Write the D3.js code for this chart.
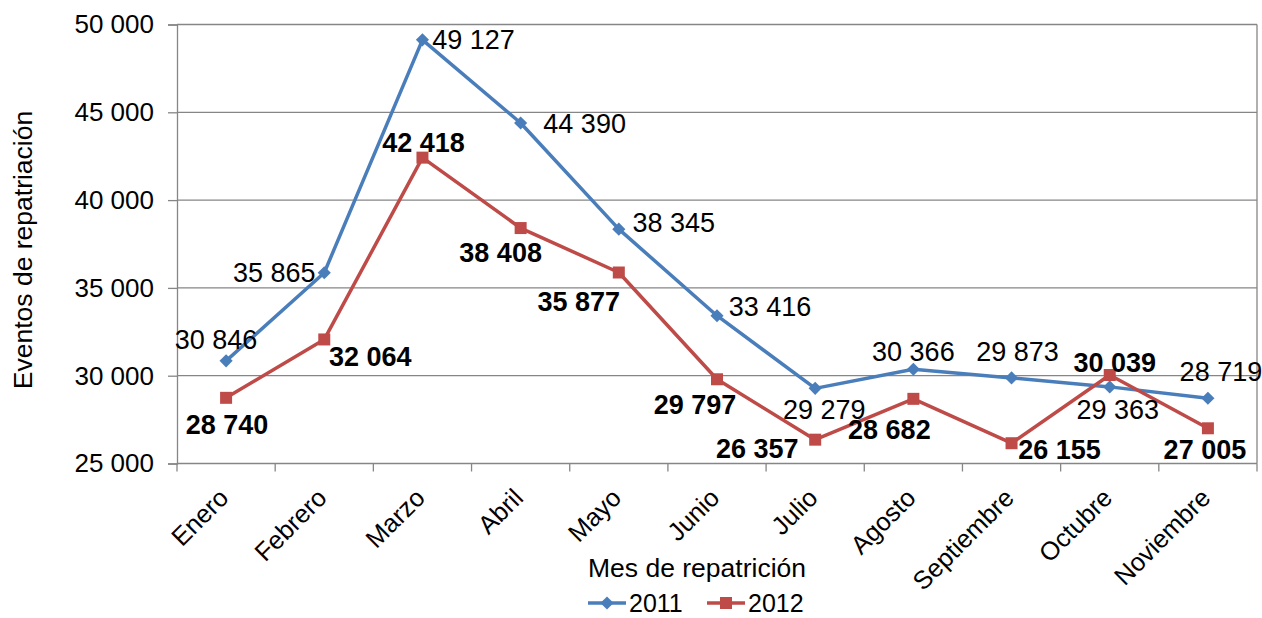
<!DOCTYPE html>
<html>
<head>
<meta charset="utf-8">
<script src="https://cdn.jsdelivr.net/npm/d3@7"></script>
<style>
  html, body { margin: 0; padding: 0; background: #fff; }
  svg { display: block; font-family: "Liberation Sans", Arial, sans-serif; }
</style>
</head>
<body>
<svg id="chart" width="1262" height="618"></svg>
<script>
// Monthly repatriation events, 2011 vs 2012
const months = ["Enero", "Febrero", "Marzo", "Abril", "Mayo", "Junio", "Julio",
                "Agosto", "Septiembre", "Octubre", "Noviembre"];
const values2011 = [30846, 35865, 49127, 44390, 38345, 33416, 29279, 30366, 29873, 29363, 28719];
const values2012 = [28740, 32064, 42418, 38408, 35877, 29797, 26357, 28682, 26155, 30039, 27005];
const yTicks = [25000, 30000, 35000, 40000, 45000, 50000];

// Label offsets (text centre relative to the point)
const offsets2011 = [[-10, -21], [-50, 0], [51, 0], [64, 1], [55, -6], [53, -9],
                     [9, 22], [0, -17], [6, -26], [8, 23], [13, -26]];
const offsets2012 = [[1, 27], [46, 18], [1, -15], [-20, 25], [-40, 30], [-22, 26],
                     [-58, 9], [-24, 31], [48, 7], [5, -12], [-3, 22]];

const fmt = v => d3.format(",")(v).replace(/,/g, " ");

const svg = d3.select("#chart");
const margin = { left: 177, right: 5, top: 24.5, bottom: 154.5 };
const W = 1262, H = 618;
const plotW = W - margin.left - margin.right;
const plotH = H - margin.top - margin.bottom;

const x = d3.scaleBand().domain(months).range([margin.left, margin.left + plotW]);
const y = d3.scaleLinear().domain([25000, 50000]).range([margin.top + plotH, margin.top]);
const cx = m => x(m) + x.bandwidth() / 2;

const gridColor = "#868686";

// Horizontal gridlines
svg.append("g").selectAll("line").data(yTicks.filter(t => t > 25000)).join("line")
  .attr("x1", margin.left).attr("x2", margin.left + plotW)
  .attr("y1", d => y(d)).attr("y2", d => y(d))
  .attr("stroke", gridColor).attr("stroke-width", 1.3);

// Right border of plot area
svg.append("line")
  .attr("x1", margin.left + plotW).attr("x2", margin.left + plotW)
  .attr("y1", margin.top).attr("y2", margin.top + plotH)
  .attr("stroke", gridColor).attr("stroke-width", 1.3);

// Y axis
const yAxis = svg.append("g")
  .attr("transform", `translate(${margin.left},0)`)
  .call(d3.axisLeft(y).tickValues(yTicks).tickSize(9).tickPadding(14).tickFormat(fmt));
yAxis.select(".domain").attr("stroke", gridColor).attr("stroke-width", 1.3);
yAxis.selectAll(".tick line").attr("stroke", gridColor).attr("stroke-width", 1.3);
yAxis.selectAll(".tick text").attr("font-size", 26).attr("fill", "#000")
  .attr("font-family", "Liberation Sans, Arial, sans-serif");

// X axis with tick marks on category boundaries
const xAxisY = margin.top + plotH;
svg.append("line")
  .attr("x1", margin.left).attr("x2", margin.left + plotW)
  .attr("y1", xAxisY).attr("y2", xAxisY)
  .attr("stroke", gridColor).attr("stroke-width", 1.3);
const bounds = months.map(m => x(m)).concat([margin.left + plotW]);
svg.append("g").selectAll("line").data(bounds).join("line")
  .attr("x1", d => d).attr("x2", d => d)
  .attr("y1", xAxisY).attr("y2", xAxisY + 8)
  .attr("stroke", gridColor).attr("stroke-width", 1.3);

svg.append("g").selectAll("text").data(months).join("text")
  .attr("transform", d => `translate(${cx(d) + 4},${xAxisY + 36}) rotate(-45)`)
  .attr("text-anchor", "end")
  .attr("font-size", 25.5)
  .attr("fill", "#000")
  .text(d => d);

// Axis titles
svg.append("text")
  .attr("transform", `translate(32,250) rotate(-90)`)
  .attr("text-anchor", "middle")
  .attr("font-size", 26.5)
  .text("Eventos de repatriación");
svg.append("text")
  .attr("x", 697).attr("y", 577)
  .attr("text-anchor", "middle")
  .attr("font-size", 26.5)
  .text("Mes de repatrición");

const series = [
  { name: "2011", values: values2011, color: "#4A7EBB", marker: "diamond", bold: false, offsets: offsets2011 },
  { name: "2012", values: values2012, color: "#BE4B48", marker: "square", bold: true, offsets: offsets2012 }
];

const line = d3.line().x(d => cx(d.m)).y(d => y(d.v));
const markerPath = (type) => type === "diamond"
  ? d3.symbol(d3.symbolDiamond2, 110)()
  : "M-6,-6H6V6H-6Z";

series.forEach(s => {
  const pts = months.map((m, i) => ({ m, v: s.values[i], off: s.offsets[i] }));
  svg.append("path").datum(pts)
    .attr("d", line)
    .attr("fill", "none")
    .attr("stroke", s.color)
    .attr("stroke-width", 3.5)
    .attr("stroke-linejoin", "round");
  svg.append("g").selectAll("path").data(pts).join("path")
    .attr("d", markerPath(s.marker))
    .attr("transform", d => `translate(${cx(d.m)},${y(d.v)})`)
    .attr("fill", s.color);
});

// Data labels drawn on top of both series
series.forEach(s => {
  const pts = months.map((m, i) => ({ m, v: s.values[i], off: s.offsets[i] }));
  svg.append("g").selectAll("text").data(pts).join("text")
    .attr("x", d => cx(d.m) + d.off[0])
    .attr("y", d => y(d.v) + d.off[1])
    .attr("text-anchor", "middle")
    .attr("dominant-baseline", "central")
    .attr("font-size", 27)
    .attr("font-weight", s.bold ? "bold" : "normal")
    .attr("fill", "#000")
    .text(d => fmt(d.v));
});

// Legend
const legend = svg.append("g");
const legendItems = [
  { s: series[0], x0: 588 },
  { s: series[1], x0: 707 }
];
legendItems.forEach(({ s, x0 }) => {
  const ly = 603;
  legend.append("line")
    .attr("x1", x0).attr("x2", x0 + 38).attr("y1", ly).attr("y2", ly)
    .attr("stroke", s.color).attr("stroke-width", 3.5);
  legend.append("path")
    .attr("d", markerPath(s.marker))
    .attr("transform", `translate(${x0 + 19},${ly})`)
    .attr("fill", s.color);
  legend.append("text")
    .attr("x", x0 + 41).attr("y", ly)
    .attr("dominant-baseline", "central")
    .attr("font-size", 25)
    .text(s.name);
});
</script>
</body>
</html>
